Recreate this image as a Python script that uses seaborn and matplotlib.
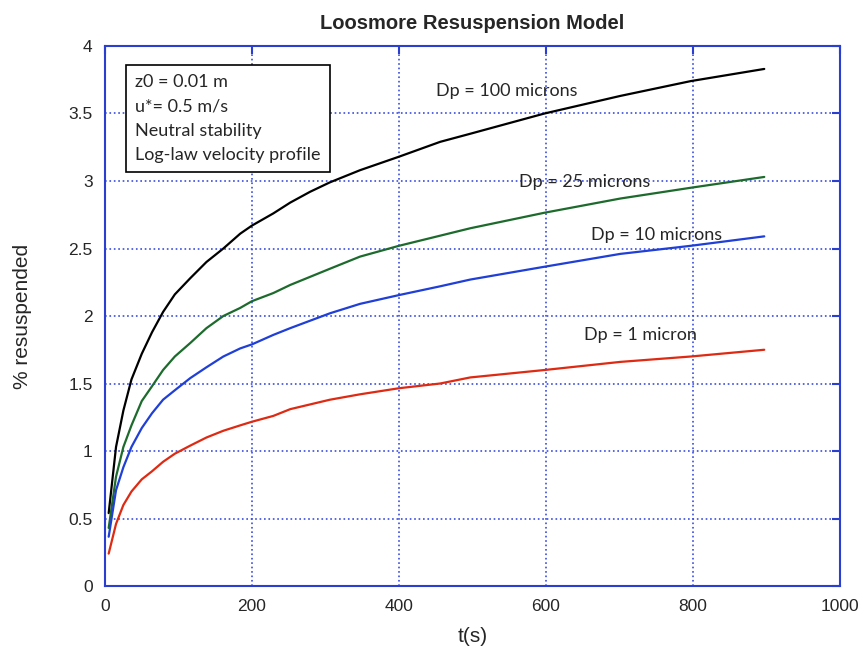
import pandas as pd
import matplotlib
matplotlib.use("Agg")
import matplotlib.pyplot as plt
import seaborn as sns

# time points (s)
t = [5, 15, 25, 36, 50, 64, 79, 95, 116, 138, 161, 184, 200, 229, 252, 279, 306, 347, 400, 456, 497, 598, 701, 797, 897]

# % resuspended for each particle size
dp100 = [0.54, 1.03, 1.30, 1.53, 1.72, 1.88, 2.03, 2.16, 2.28, 2.40, 2.50, 2.61, 2.67, 2.76, 2.84, 2.92, 2.99,
         3.08, 3.18, 3.29, 3.35, 3.50, 3.63, 3.74, 3.83]
dp25 = [0.43, 0.81, 1.03, 1.19, 1.37, 1.48, 1.60, 1.70, 1.80, 1.91, 2.00, 2.06, 2.11, 2.17, 2.23, 2.29, 2.35,
        2.44, 2.52, 2.595, 2.65, 2.765, 2.87, 2.95, 3.03]
dp10 = [0.365, 0.71, 0.88, 1.03, 1.17, 1.28, 1.38, 1.45, 1.54, 1.62, 1.70, 1.76, 1.79, 1.86, 1.91, 1.965, 2.02,
        2.09, 2.155, 2.22, 2.27, 2.365, 2.46, 2.52, 2.59]
dp1 = [0.24, 0.46, 0.60, 0.70, 0.79, 0.85, 0.92, 0.98, 1.04, 1.10, 1.15, 1.19, 1.217, 1.26, 1.31, 1.345, 1.38,
       1.42, 1.465, 1.50, 1.545, 1.60, 1.66, 1.70, 1.75]

series_names = ["Dp = 100 microns", "Dp = 25 microns", "Dp = 10 microns", "Dp = 1 micron"]
series_vals = [dp100, dp25, dp10, dp1]
colors = ["#000000", "#1d6b2c", "#1f3fd6", "#de2a12"]

df = pd.concat(
    [pd.DataFrame({"t": t, "pct": v, "size": n}) for n, v in zip(series_names, series_vals)],
    ignore_index=True,
)

sns.set_style("white")
plt.rcParams["font.family"] = ["Liberation Sans", "DejaVu Sans"]

fig = plt.figure(figsize=(8.6, 6.58), dpi=100)
ax = fig.add_axes([0.1221, 0.1094, 0.8546, 0.8207])

sns.lineplot(data=df, x="t", y="pct", hue="size", palette=dict(zip(series_names, colors)),
             linewidth=1.6, legend=False, ax=ax)

blue = "#2a3fd0"
ax.set_xlim(0, 1000)
ax.set_ylim(0, 4)
ax.set_xticks(range(0, 1001, 200))
ax.set_yticks([0, 0.5, 1, 1.5, 2, 2.5, 3, 3.5, 4])
ax.set_yticklabels(["0", "0.5", "1", "1.5", "2", "2.5", "3", "3.5", "4"])
ax.grid(True, color="#3a4ee0", linestyle=":", linewidth=1.2)
for s in ax.spines.values():
    s.set_color(blue)
    s.set_linewidth(1.5)
ax.tick_params(direction="in", length=6, width=1.5, color=blue, top=True, right=True,
               labelsize=12.5, pad=9)

ax.set_xlabel("t(s)", fontsize=15, labelpad=10)
ax.set_ylabel("% resuspended", fontsize=15, labelpad=26)
ax.set_title("Loosmore Resuspension Model", fontsize=14.5, fontweight="bold", pad=12)

# curve labels
lab_font = ["Lato", "DejaVu Sans"]
ax.text(450, 3.67, "Dp = 100 microns", fontsize=13, family=lab_font, va="center")
ax.text(563, 2.99, "Dp = 25 microns", fontsize=13, family=lab_font, va="center")
ax.text(661, 2.60, "Dp = 10 microns", fontsize=13, family=lab_font, va="center")
ax.text(652, 1.86, "Dp = 1 micron", fontsize=13, family=lab_font, va="center")

# info box
ax.text(0.041, 0.948, "z0 = 0.01 m\nu*= 0.5 m/s\nNeutral stability\nLog-law velocity profile",
        transform=ax.transAxes, fontsize=13, family=lab_font, va="top", ha="left",
        linespacing=1.65,
        bbox=dict(boxstyle="square,pad=0.5", facecolor="white", edgecolor="black", linewidth=1.2))

fig.savefig("out.png", dpi=100)
